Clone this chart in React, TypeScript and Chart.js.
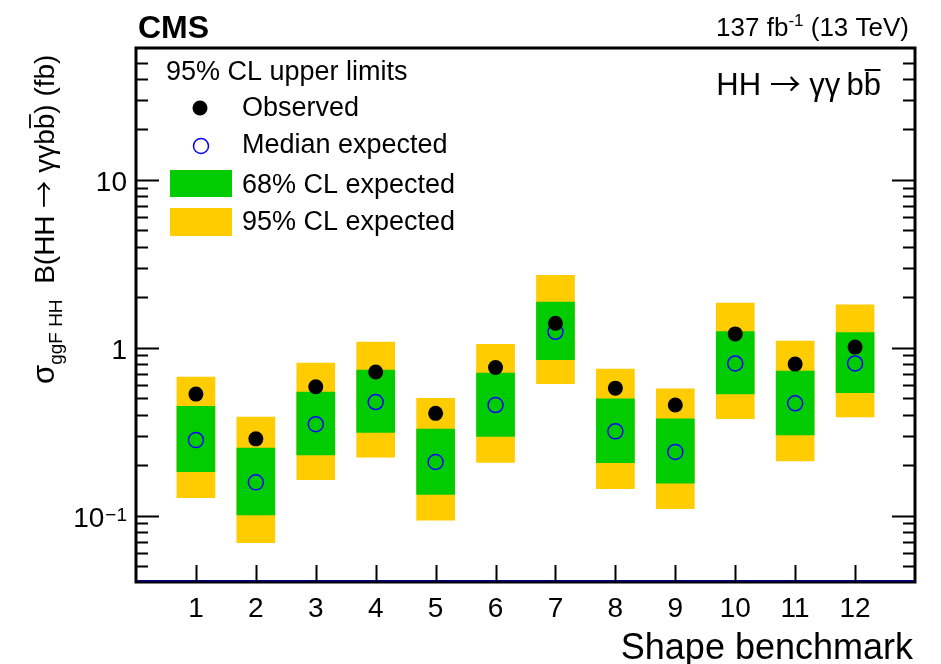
import React, { useEffect, useRef } from "react";
import { Chart, registerables } from "chart.js";

Chart.register(...registerables);

// Shape benchmark index
const benchmarks = [1, 2, 3, 4, 5, 6, 7, 8, 9, 10, 11, 12];
// 95% CL upper limits (fb)
const observed = [0.53, 0.287, 0.586, 0.717, 0.407, 0.764, 1.4, 0.575, 0.456, 1.21, 0.8, 1.01];
const expected = [0.282, 0.158, 0.351, 0.475, 0.209, 0.456, 1.245, 0.318, 0.24, 0.807, 0.467, 0.807];
const band68Low = [0.183, 0.101, 0.23, 0.313, 0.134, 0.297, 0.849, 0.207, 0.156, 0.532, 0.303, 0.54];
const band68High = [0.448, 0.253, 0.545, 0.737, 0.328, 0.707, 1.87, 0.497, 0.378, 1.25, 0.727, 1.23];
const band95Low = [0.128, 0.069, 0.164, 0.223, 0.094, 0.208, 0.611, 0.145, 0.11, 0.378, 0.212, 0.387];
const band95High = [0.669, 0.387, 0.811, 1.08, 0.5, 1.05, 2.7, 0.747, 0.57, 1.845, 1.096, 1.8];

// y-axis decade labels: mantissa text + exponent text
const yTickValues = [0.1, 1, 10];
const yTickBase = ["10", "1", "10"];
const yTickExp = ["\u22121", "", ""];

const X_MIN = 0;
const X_MAX = 13;
const Y_MIN = 0.0403;
const Y_MAX = 61;

const FONT = '"Liberation Sans", Arial, Helvetica, sans-serif';
const ARROW_FONT = '"Noto Sans CJK SC", "DejaVu Sans", sans-serif';
const YELLOW = "#ffcc00";
const GREEN = "#00cc00";
const BLUE = "#0000ff";

type Run = { text: string; font: string; dy?: number; bar?: boolean };

function runsWidth(ctx: CanvasRenderingContext2D, runs: Run[]) {
  let w = 0;
  for (const r of runs) {
    ctx.font = r.font;
    w += ctx.measureText(r.text).width;
  }
  return w;
}

// draws a sequence of text pieces on one baseline; pieces with bar get an overline
function drawRuns(ctx: CanvasRenderingContext2D, runs: Run[], x: number, y: number, barY: number) {
  ctx.textAlign = "left";
  let u = x;
  for (const r of runs) {
    ctx.font = r.font;
    const w = ctx.measureText(r.text).width;
    ctx.fillText(r.text, u, y + (r.dy || 0));
    if (r.bar) {
      ctx.beginPath();
      ctx.moveTo(u + 1, y + barY);
      ctx.lineTo(u + w - 0.5, y + barY);
      ctx.stroke();
    }
    u += w;
  }
  return u - x;
}

const decorations = {
  id: "cmsDecorations",
  afterDatasetsDraw(chart: any) {
    const { ctx, chartArea: a, scales } = chart;
    const xs = scales.x;
    const ys = scales.y;
    ctx.save();

    // frame
    ctx.strokeStyle = "#000";
    ctx.lineWidth = 3;
    ctx.strokeRect(a.left, a.top, a.right - a.left, a.bottom - a.top);
    ctx.strokeStyle = "#000080";
    ctx.lineWidth = 1.5;
    ctx.beginPath();
    ctx.moveTo(a.left + 1.5, a.bottom - 1.2);
    ctx.lineTo(a.right - 1.5, a.bottom - 1.2);
    ctx.stroke();

    // y ticks (left and right, pointing inward)
    ctx.strokeStyle = "#000";
    ctx.lineWidth = 2;
    const decades = [0.01, 0.1, 1, 10];
    for (const d of decades) {
      for (let k = 1; k <= 9; k++) {
        const v = k * d;
        if (v <= Y_MIN || v >= Y_MAX) continue;
        const py = Math.round(ys.getPixelForValue(v)) + 0.5;
        if (py < a.top + 3 || py > a.bottom - 3) continue;
        const len = k === 1 ? 23 : 12;
        ctx.beginPath();
        ctx.moveTo(a.left, py);
        ctx.lineTo(a.left + len, py);
        ctx.moveTo(a.right, py);
        ctx.lineTo(a.right - len, py);
        ctx.stroke();
      }
    }

    // x ticks at each benchmark
    for (const b of benchmarks) {
      const px = Math.round(xs.getPixelForValue(b)) + 0.5;
      ctx.beginPath();
      ctx.moveTo(px, a.bottom);
      ctx.lineTo(px, a.bottom - 17);
      ctx.stroke();
    }

    ctx.fillStyle = "#000";
    ctx.textBaseline = "alphabetic";

    // x tick labels
    ctx.font = `28px ${FONT}`;
    ctx.textAlign = "center";
    for (const b of benchmarks) {
      ctx.fillText(String(b), xs.getPixelForValue(b), 617);
    }

    // y tick labels
    ctx.textAlign = "right";
    yTickValues.forEach((v, i) => {
      const py = ys.getPixelForValue(v);
      let right = 127;
      if (yTickExp[i]) {
        ctx.font = `19px ${FONT}`;
        const w = ctx.measureText(yTickExp[i]).width;
        ctx.fillText(yTickExp[i], right, py + 5);
        right -= w + 1;
      }
      ctx.font = `28px ${FONT}`;
      ctx.fillText(yTickBase[i], right, py + 11);
    });

    // x axis title
    ctx.font = `36px ${FONT}`;
    ctx.textAlign = "right";
    ctx.fillText("Shape benchmark", 913, 659);

    // y axis title, running upward
    ctx.save();
    ctx.translate(54, 384);
    ctx.rotate(-Math.PI / 2);
    ctx.lineWidth = 1.8;
    const f28 = `28px ${FONT}`;
    drawRuns(
      ctx,
      [
        { text: "\u03c3", font: `31px ${FONT}` },
        { text: "ggF HH", font: `19px ${FONT}`, dy: 8 },
        { text: "  B(HH ", font: f28 },
        { text: "\u2192", font: `27px ${ARROW_FONT}` },
        { text: " \u03b3\u03b3b", font: f28 },
        { text: "b", font: f28, bar: true },
        { text: ") (fb)", font: f28 },
      ],
      0,
      0,
      -24
    );
    ctx.restore();

    // header texts
    ctx.textAlign = "left";
    ctx.font = `bold 32px ${FONT}`;
    ctx.fillText("CMS", 138, 38);

    {
      const runs: Run[] = [
        { text: "137 fb", font: `26px ${FONT}` },
        { text: "-1", font: `17px ${FONT}`, dy: -10 },
        { text: " (13 TeV)", font: `26px ${FONT}` },
      ];
      const w = runsWidth(ctx, runs);
      drawRuns(ctx, runs, 909 - w, 36, 0);
    }

    {
      const f31 = `31px ${FONT}`;
      const runs: Run[] = [
        { text: "HH ", font: f31 },
        { text: "\u2192", font: `31px ${ARROW_FONT}` },
        { text: " \u03b3\u03b3\u2009b", font: f31 },
        { text: "b", font: f31, bar: true },
      ];
      const w = runsWidth(ctx, runs);
      ctx.lineWidth = 2;
      drawRuns(ctx, runs, 881 - w, 95, -25);
    }

    // legend
    ctx.textAlign = "left";
    ctx.font = `27px ${FONT}`;
    ctx.fillText("95% CL upper limits", 166, 80);
    ctx.fillText("Observed", 242, 116);
    ctx.fillText("Median expected", 242, 153);
    ctx.fillText("68% CL expected", 242, 193);
    ctx.fillText("95% CL expected", 242, 230);

    ctx.beginPath();
    ctx.arc(200, 108, 7.5, 0, Math.PI * 2);
    ctx.fill();
    ctx.strokeStyle = BLUE;
    ctx.lineWidth = 1.5;
    ctx.beginPath();
    ctx.arc(201, 146, 7.5, 0, Math.PI * 2);
    ctx.stroke();
    ctx.fillStyle = GREEN;
    ctx.fillRect(170, 170, 62, 27);
    ctx.fillStyle = YELLOW;
    ctx.fillRect(170, 208, 62, 28);

    ctx.restore();
  },
};

export default function App() {
  const ref = useRef<HTMLCanvasElement>(null);

  useEffect(() => {
    const canvas = ref.current;
    if (!canvas) return;
    const chart = new Chart(canvas, {
      type: "bar",
      data: {
        datasets: [
          {
            type: "line",
            label: "Observed",
            data: benchmarks.map((b, i) => ({ x: b, y: observed[i] })),
            showLine: false,
            pointRadius: 7.5,
            pointBackgroundColor: "#000",
            pointBorderColor: "#000",
            pointBorderWidth: 0,
            order: 0,
          } as any,
          {
            type: "line",
            label: "Median expected",
            data: benchmarks.map((b, i) => ({ x: b, y: expected[i] })),
            showLine: false,
            pointRadius: 7.5,
            pointBackgroundColor: "rgba(0,0,0,0)",
            pointBorderColor: BLUE,
            pointBorderWidth: 1.5,
            order: 1,
          } as any,
          {
            type: "bar",
            label: "68% CL expected",
            data: benchmarks.map((b, i) => ({ x: b, y: [band68Low[i], band68High[i]] })),
            backgroundColor: GREEN,
            borderWidth: 0,
            barThickness: 38,
            grouped: false,
            order: 2,
          } as any,
          {
            type: "bar",
            label: "95% CL expected",
            data: benchmarks.map((b, i) => ({ x: b, y: [band95Low[i], band95High[i]] })),
            backgroundColor: YELLOW,
            borderWidth: 0,
            barThickness: 38,
            grouped: false,
            order: 3,
          } as any,
        ],
      },
      options: {
        responsive: false,
        animation: false,
        devicePixelRatio: 1,
        layout: { padding: { left: 136, top: 48, right: 26, bottom: 82 } },
        scales: {
          x: {
            type: "linear",
            display: false,
            min: X_MIN,
            max: X_MAX,
            offset: false,
          },
          y: {
            type: "logarithmic",
            display: false,
            min: Y_MIN,
            max: Y_MAX,
          },
        },
        plugins: {
          legend: { display: false },
          tooltip: { enabled: false },
        },
      },
      plugins: [decorations],
    } as any);
    return () => chart.destroy();
  }, []);

  return (
    <div style={{ position: "absolute", left: 0, top: 0, width: 941, height: 664, background: "#fff" }}>
      <canvas ref={ref} width={941} height={664} style={{ display: "block", width: 941, height: 664 }} />
    </div>
  );
}
